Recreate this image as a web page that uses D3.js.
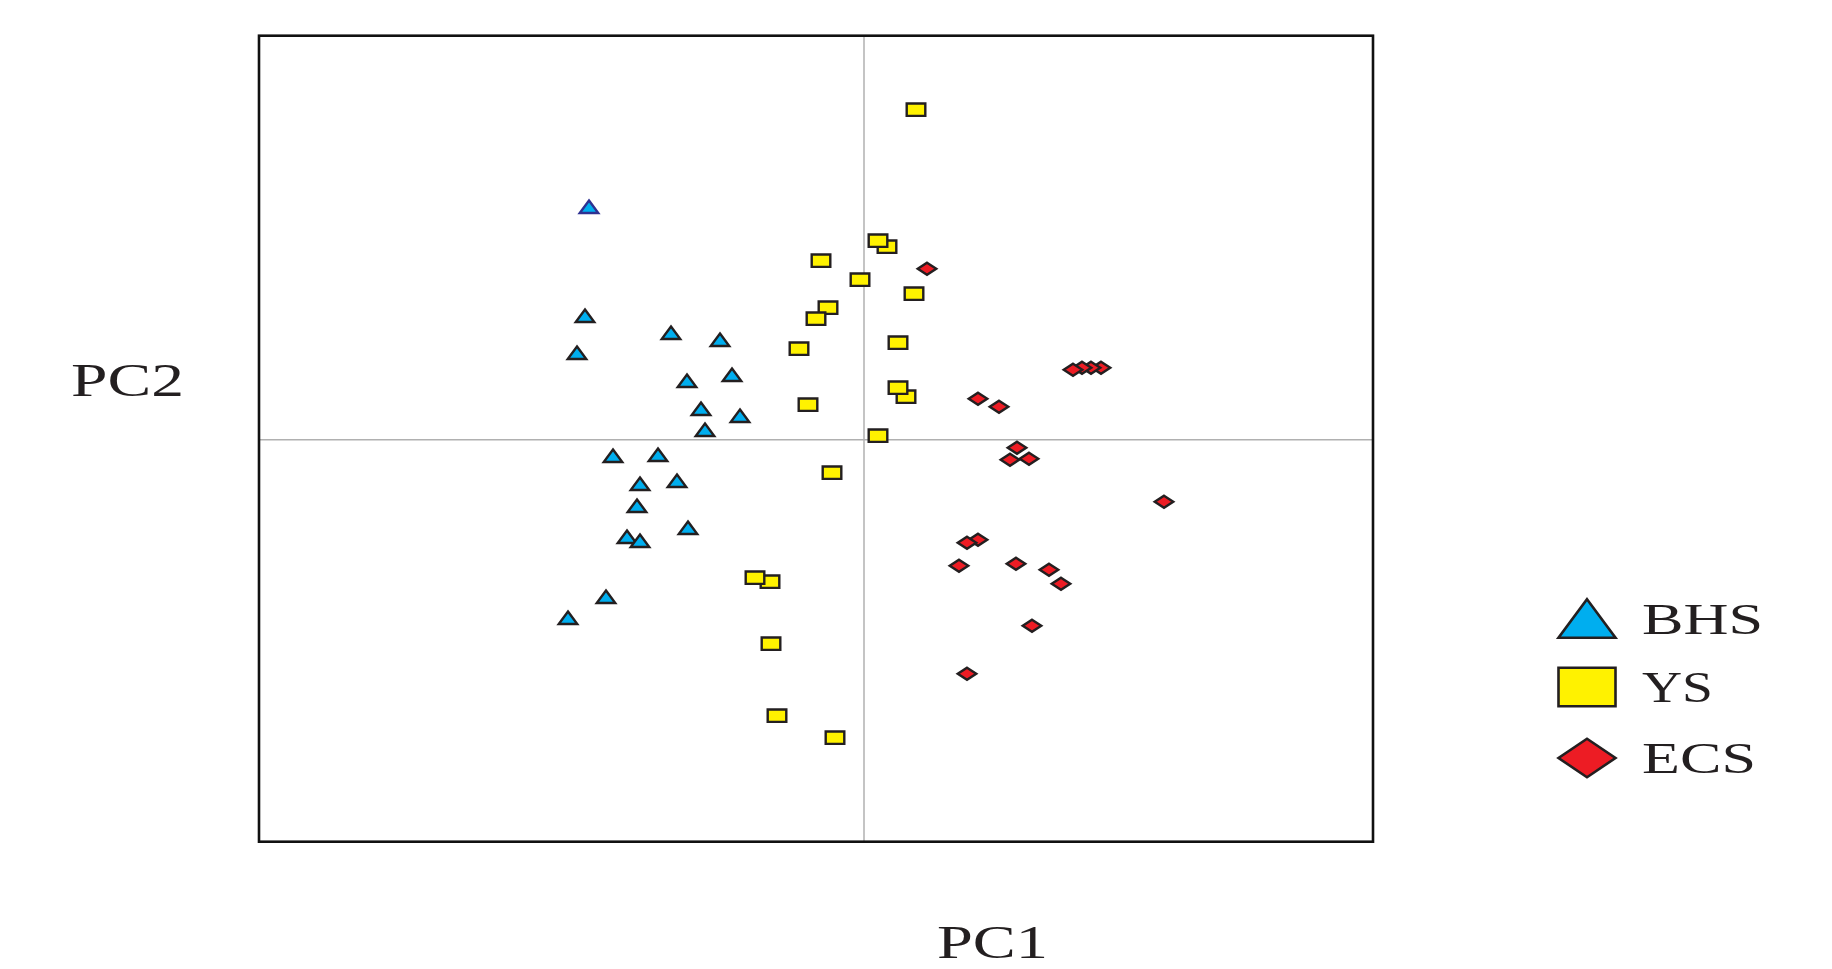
<!DOCTYPE html>
<html>
<head>
<meta charset="utf-8">
<script src="https://cdn.jsdelivr.net/npm/d3@7"></script>
<style>
  body { margin: 0; background: #fff; }
  text { font-family: "Liberation Serif", "DejaVu Serif", serif; fill: #231f20; }
</style>
</head>
<body>
<div id="scatter"></div>
<script>
//1) Data (PC scores, arbitrary units)
var groups = ["BHS", "YS", "ECS"];
var bhsPC1 = [-2.75, -2.79, -1.93, -1.44, -2.87, -1.77, -1.32, -1.63, -1.24, -1.59, -2.51, -2.06, -2.24, -1.87, -2.27, -1.76, -2.37, -2.24, -2.58, -2.96];
var bhsPC2 = [2.33, 1.24, 1.07, 1.00, 0.87, 0.59, 0.65, 0.31, 0.24, 0.10, -0.16, -0.15, -0.44, -0.41, -0.66, -0.88, -0.97, -1.01, -1.57, -1.78];
var ysPC1 = [0.52, 0.23, 0.14, -0.43, -0.04, 0.50, -0.36, -0.48, 0.34, -0.65, 0.42, 0.34, -0.56, 0.14, -0.32, -0.94, -1.09, -0.93, -0.87, -0.29];
var ysPC2 = [3.30, 1.93, 1.99, 1.79, 1.60, 1.46, 1.32, 1.21, 0.97, 0.91, 0.43, 0.52, 0.35, 0.04, -0.33, -1.42, -1.38, -2.04, -2.76, -2.98];
var ecsPC1 = [0.63, 2.37, 2.27, 2.18, 2.09, 1.14, 1.35, 1.53, 1.46, 1.65, 3.00, 1.14, 1.03, 0.95, 1.52, 1.85, 1.97, 1.68, 1.03];
var ecsPC2 = [1.71, 0.72, 0.72, 0.72, 0.70, 0.41, 0.33, -0.08, -0.20, -0.19, -0.62, -1.00, -1.03, -1.26, -1.24, -1.30, -1.44, -1.86, -2.34];
var xDomain = [-6.05, 5.09];
var yDomain = [-4.02, 4.04];

//2) svg size and margins
var svgWidth = 1832;
var svgHeight = 969;
var margin = { top: 35.7, left: 259, right: 459, bottom: 127.3 };
var width = svgWidth - margin.left - margin.right;
var height = svgHeight - margin.top - margin.bottom;

var svg = d3.select("#scatter")
    .append("svg")
    .attr("width", svgWidth)
    .attr("height", svgHeight);

var chart = svg.append("g")
    .attr("transform", `translate(${margin.left}, ${margin.top})`);

//3) scales
var xScale = d3.scaleLinear().domain(xDomain).range([0, width]);
var yScale = d3.scaleLinear().domain(yDomain).range([height, 0]);

//4) marker shapes, w x h around the centre
function triangle(w, h) {
    return `M0,${-h / 2}L${w / 2},${h / 2}L${-w / 2},${h / 2}Z`;
}
function box(w, h) {
    return `M${-w / 2},${-h / 2}H${w / 2}V${h / 2}H${-w / 2}Z`;
}
function diamond(w, h) {
    return `M0,${-h / 2}L${w / 2},0L0,${h / 2}L${-w / 2},0Z`;
}
var styles = {
    BHS: { fill: "#00aeef", shape: triangle, w: 18.5, h: 12.5 },
    YS: { fill: "#fff200", shape: box, w: 18.6, h: 12.4 },
    ECS: { fill: "#ed1c24", shape: diamond, w: 18.5, h: 12 }
};

//5) zero lines and frame
chart.append("line")
    .attr("x1", xScale(0)).attr("x2", xScale(0))
    .attr("y1", 0).attr("y2", height)
    .attr("stroke", "#9d9d9d").attr("stroke-width", 1.2);
chart.append("line")
    .attr("x1", 0).attr("x2", width)
    .attr("y1", yScale(0)).attr("y2", yScale(0))
    .attr("stroke", "#b0b0b0").attr("stroke-width", 1.4);
chart.append("rect")
    .attr("width", width).attr("height", height)
    .attr("fill", "none")
    .attr("stroke", "#111").attr("stroke-width", 2.6);

//6) points
var series = [
    { name: "BHS", x: bhsPC1, y: bhsPC2 },
    { name: "YS", x: ysPC1, y: ysPC2 },
    { name: "ECS", x: ecsPC1, y: ecsPC2 }
];
series.forEach(function(s) {
    var st = styles[s.name];
    var pts = s.x.map((v, i) => ({ x: v, y: s.y[i], i: i }));
    chart.append("g").selectAll("path")
        .data(pts)
        .enter()
        .append("path")
        .attr("d", st.shape(st.w, st.h))
        .attr("transform", d => `translate(${xScale(d.x)}, ${yScale(d.y)})`)
        .attr("fill", st.fill)
        .attr("stroke", d => (s.name == "BHS" && d.i == 0) ? "#2e3192" : "#231f20")
        .attr("stroke-width", 2.4)
        .attr("stroke-linejoin", "miter");
});

//7) legend
var legendY = [618.5, 687, 758];
var legendText = { BHS: 121, YS: 71, ECS: 114 };
var legend = svg.append("g");
groups.forEach(function(g, i) {
    var st = styles[g];
    legend.append("path")
        .attr("d", st.shape(57, 38.5))
        .attr("transform", `translate(1587, ${legendY[i]})`)
        .attr("fill", st.fill)
        .attr("stroke", "#231f20")
        .attr("stroke-width", 2.6);
    legend.append("text")
        .attr("x", 1642)
        .attr("y", legendY[i] + 15)
        .attr("font-size", 44)
        .attr("textLength", legendText[g])
        .attr("lengthAdjust", "spacingAndGlyphs")
        .text(g);
});

//8) axis labels
svg.append("text")
    .attr("x", 71)
    .attr("y", 396)
    .attr("font-size", 46)
    .attr("textLength", 113)
    .attr("lengthAdjust", "spacingAndGlyphs")
    .text("PC2");
svg.append("text")
    .attr("x", 937)
    .attr("y", 958)
    .attr("font-size", 46)
    .attr("textLength", 111)
    .attr("lengthAdjust", "spacingAndGlyphs")
    .text("PC1");
</script>
</body>
</html>
